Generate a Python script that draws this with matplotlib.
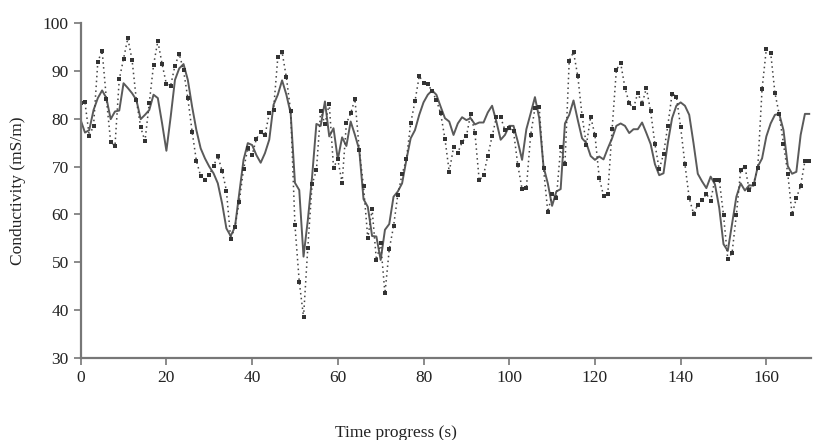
import numpy as np
import matplotlib
matplotlib.use("Agg")
import matplotlib.pyplot as plt

# measured conductivity (dotted, square markers), one sample per second
measured = [83.2, 83.4, 76.4, 78.5, 91.9, 94.2, 84.1, 75.1, 74.3, 88.2,
            92.5, 96.8, 92.2, 83.8, 78.2, 75.3, 83.2, 91.2, 96.2, 91.4,
            87.2, 86.9, 91.1, 93.5, 90.1, 84.3, 77.3, 71.2, 68.0, 67.3,
            68.2, 70.1, 72.2, 69.1, 65.0, 54.9, 57.4, 62.7, 69.4, 73.8,
            72.4, 75.8, 77.3, 76.5, 81.1, 81.8, 92.8, 93.9, 88.6, 81.5,
            57.7, 46.0, 38.6, 53.1, 66.3, 69.2, 81.6, 78.9, 83.1, 69.8,
            71.5, 66.6, 79.0, 81.1, 84.1, 73.5, 65.9, 55.0, 61.1, 50.5,
            54.0, 43.5, 52.7, 57.5, 64.1, 68.4, 71.5, 79.0, 83.6, 88.9,
            87.5, 87.3, 85.7, 83.9, 81.1, 75.8, 68.9, 74.0, 72.9, 75.1,
            76.3, 81.0, 77.0, 67.1, 68.2, 72.3, 76.3, 80.3, 80.3, 77.6,
            78.0, 77.4, 70.3, 65.3, 65.5, 76.6, 82.2, 82.4, 69.6, 60.5,
            64.3, 63.4, 74.0, 70.5, 92.1, 93.9, 88.9, 80.6, 74.5, 80.4,
            76.6, 67.7, 63.9, 64.3, 77.8, 90.2, 91.6, 86.5, 83.2, 82.2,
            85.4, 83.1, 86.4, 81.5, 74.7, 69.4, 72.6, 78.5, 85.2, 84.6,
            78.2, 70.5, 63.4, 60.2, 62.0, 63.0, 64.3, 62.9, 67.3, 67.3,
            59.9, 50.6, 52.0, 59.9, 69.2, 70.0, 65.1, 66.4, 69.8, 86.2,
            94.6, 93.8, 85.4, 80.9, 74.7, 68.5, 60.0, 63.4, 66.0, 71.2,
            71.2]

# predicted conductivity (solid gray line)
predicted = [79.7, 77.1, 77.6, 81.8, 84.3, 85.9, 84.3, 79.9, 81.5, 81.7,
             87.4, 86.4, 85.3, 83.9, 79.9, 80.8, 81.8, 85.0, 84.3, 79.0,
             73.3, 80.4, 88.1, 90.5, 91.4, 88.1, 82.5, 77.6, 73.8, 71.7,
             70.0, 68.6, 66.5, 62.3, 57.1, 55.5, 57.4, 64.4, 71.4, 74.9,
             74.5, 72.4, 70.8, 72.8, 75.6, 82.9, 85.0, 88.0, 85.0, 81.1,
             66.6, 65.1, 51.2, 58.8, 67.9, 78.9, 78.5, 83.6, 76.3, 78.0,
             71.5, 76.1, 74.3, 79.4, 76.6, 73.5, 63.2, 61.6, 55.5, 55.4,
             50.5, 56.8, 58.0, 63.7, 64.8, 66.5, 71.4, 75.9, 77.6, 80.8,
             83.4, 85.0, 85.9, 85.0, 82.5, 80.1, 79.4, 76.6, 79.0, 80.3,
             79.7, 80.1, 78.8, 79.2, 79.2, 81.3, 82.7, 79.4, 75.6, 76.6,
             78.5, 78.5, 75.2, 71.4, 77.8, 81.1, 84.5, 80.1, 70.0, 66.5,
             61.8, 64.8, 65.3, 79.0, 80.8, 83.8, 79.7, 75.9, 74.9, 72.2,
             71.4, 72.1, 71.5, 73.8, 75.9, 78.5, 79.0, 78.5, 77.0, 77.8,
             77.8, 79.2, 77.0, 74.7, 70.5, 68.2, 68.6, 74.9, 80.1, 82.7,
             83.4, 82.7, 80.8, 74.9, 68.5, 66.9, 65.5, 67.9, 66.3, 61.4,
             53.8, 52.4, 58.0, 63.7, 66.5, 65.0, 66.1, 66.0, 70.0, 71.7,
             76.3, 79.0, 80.8, 81.0, 77.6, 70.1, 68.5, 68.9, 76.6, 81.0,
             81.0]

time = np.arange(len(measured))
xticks = [0, 20, 40, 60, 80, 100, 120, 140, 160]
yticks = [30, 40, 50, 60, 70, 80, 90, 100]

plt.rcParams['font.family'] = ['Liberation Serif', 'DejaVu Serif']

fig = plt.figure(figsize=(8.15, 4.40), dpi=100)
ax = fig.add_axes([0.099, 0.186, 0.896, 0.762])

ax.plot(time, predicted, color="#5a5a5a", linewidth=1.4)
ax.plot(time, measured, linestyle=(0, (1, 2.2)), color="#444444", linewidth=1.1,
        marker="s", markersize=3.2, markerfacecolor="#333333", markeredgewidth=0)

ax.set_xlim(0, 170.4)
ax.set_ylim(30, 100)
ax.set_xticks(xticks)
ax.set_yticks(yticks)

for side in ["top", "right"]:
    ax.spines[side].set_visible(False)
for side in ["left", "bottom"]:
    ax.spines[side].set_color("#777777")
    ax.spines[side].set_linewidth(1.6)

ax.tick_params(axis="both", colors="#777777", length=5, width=1.2,
               labelsize=12.5, labelcolor="#222222")

ax.set_xlabel("Time progress (s)", fontsize=12.5, color="#222222")
ax.xaxis.set_label_coords(0.432, -0.2)
ax.set_ylabel("Conductivity (mS/m)", fontsize=12.5, color="#222222", labelpad=12)

plt.savefig("out.png", dpi=100)
